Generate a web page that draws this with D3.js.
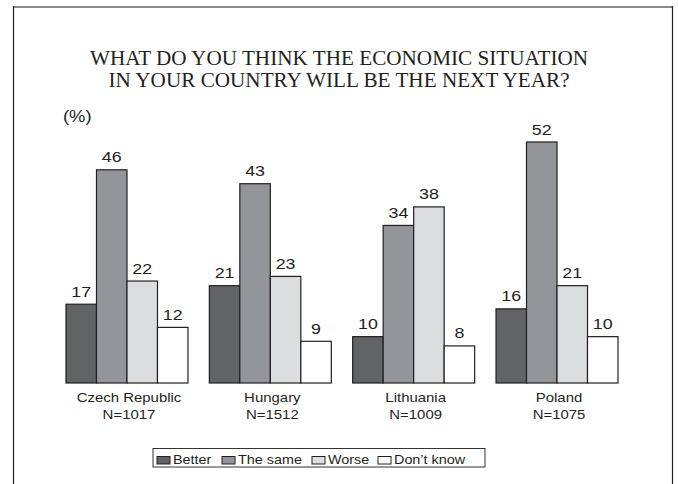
<!DOCTYPE html>
<html><head><meta charset="utf-8">
<script src="https://cdn.jsdelivr.net/npm/d3@7"></script>
<style>body{margin:0;background:#fff}svg{display:block}</style>
</head><body>
<svg id="c" width="678" height="484"></svg>
<script>
const countries = ["Czech Republic", "Hungary", "Lithuania", "Poland"];
const sampleSizes = ["N=1017", "N=1512", "N=1009", "N=1075"];
const series = ["Better", "The same", "Worse", "Don\u2019t know"];
const better = [17, 21, 10, 16];
const theSame = [46, 43, 34, 52];
const worse = [22, 23, 38, 21];
const dontKnow = [12, 9, 8, 10];
const titleLines = ["WHAT DO YOU THINK THE ECONOMIC SITUATION", "IN YOUR COUNTRY WILL BE THE NEXT YEAR?"];
const unitLabel = "(%)";

const values = [better, theSame, worse, dontKnow];
const colors = ["#626365", "#949598", "#dcdddf", "#ffffff"];
const stroke = "#231f20";
const SX = 1.15;
const sans = "'Liberation Sans', Arial, sans-serif";
const serif = "'Liberation Serif', 'Times New Roman', serif";

const svg = d3.select("#c");

// frame
svg.append("line").attr("x1", 13).attr("x2", 673).attr("y1", 7).attr("y2", 7)
  .attr("stroke", "#8a8a8a").attr("stroke-width", 2);
svg.append("line").attr("x1", 13.5).attr("x2", 13.5).attr("y1", 6).attr("y2", 484)
  .attr("stroke", "#222").attr("stroke-width", 1.2);
svg.append("line").attr("x1", 672.5).attr("x2", 672.5).attr("y1", 6).attr("y2", 484)
  .attr("stroke", "#222").attr("stroke-width", 1.2);

function stext(g, x, y, txt, size, anchor, family, sx) {
  return g.append("text")
    .attr("transform", `translate(${x},${y}) scale(${sx},1)`)
    .attr("text-anchor", anchor)
    .attr("font-family", family)
    .attr("font-size", size)
    .attr("fill", "#231f20")
    .text(txt);
}

// title
titleLines.forEach((t, i) => stext(svg, 339, 65 + i * 22, t, 20, "middle", serif, 1.06));
stext(svg, 63, 121.5, unitLabel, 16, "start", sans, SX);

const x0 = d3.scaleBand().domain(countries).range([66, 618]).paddingInner(0.149).paddingOuter(0);
const x1 = d3.scaleBand().domain(series).range([0, x0.bandwidth()]).padding(0);
const y = d3.scaleLinear().domain([0, 52]).range([383, 142]);

const groups = svg.selectAll("g.grp").data(countries).join("g")
  .attr("class", "grp")
  .attr("transform", d => `translate(${x0(d)},0)`);

groups.each(function (c, ci) {
  const g = d3.select(this);
  series.forEach((s, si) => {
    const v = values[si][ci];
    g.append("rect")
      .attr("x", x1(s)).attr("y", y(v))
      .attr("width", x1.bandwidth()).attr("height", y(0) - y(v))
      .attr("fill", colors[si]).attr("stroke", stroke).attr("stroke-width", 1.2);
    stext(g, x1(s) + x1.bandwidth() / 2, y(v) - 7.5, v, 15.5, "middle", sans, SX);
  });
  stext(g, x0.bandwidth() / 2 + 2, 402, c, 13, "middle", sans, SX);
  stext(g, x0.bandwidth() / 2 + 2, 419, sampleSizes[ci], 13, "middle", sans, SX);
});

// legend
const lg = svg.append("g");
lg.append("rect").attr("x", 153).attr("y", 448.5).attr("width", 332).attr("height", 18.5)
  .attr("fill", "#fff").attr("stroke", "#333").attr("stroke-width", 1);
const legendX = d3.scaleOrdinal().domain(series).range([157, 222, 312, 378]);
series.forEach((s, si) => {
  lg.append("rect").attr("x", legendX(s)).attr("y", 456.5).attr("width", 13).attr("height", 7.5)
    .attr("fill", colors[si]).attr("stroke", stroke).attr("stroke-width", 1);
  stext(lg, legendX(s) + 16, 464, s, 12.5, "start", sans, SX);
});
</script>
</body></html>
